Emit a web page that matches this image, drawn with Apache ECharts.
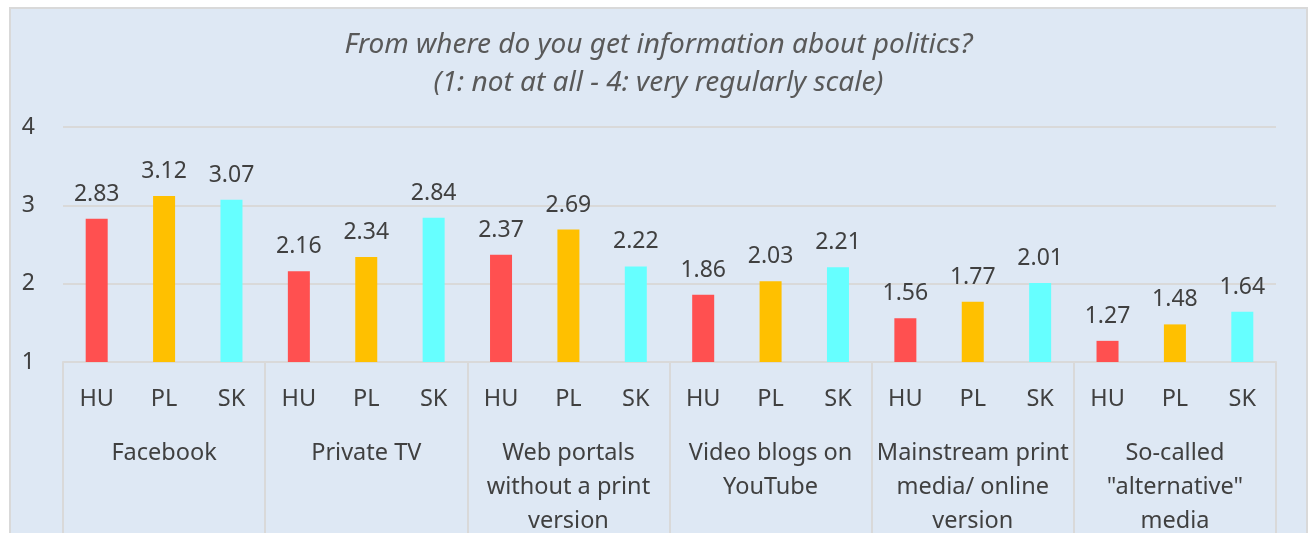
<!DOCTYPE html>
<html>
<head>
<meta charset="utf-8">
<script src="https://cdn.jsdelivr.net/npm/echarts@6/dist/echarts.min.js"></script>
<style>
  html, body { margin: 0; padding: 0; background: #fff; overflow: hidden; width: 1308px; height: 533px; }
  #wrap {
    position: absolute; left: 9px; top: 7px;
    width: 1295px; height: 600px;
    border: 2px solid #d9d9d9; border-bottom: none;
    background: #dee8f4;
  }
  #main { width: 1295px; height: 600px; }
</style>
</head>
<body>
<div id="wrap"><div id="main"></div></div>
<script>
// media sources (group labels)
var groups = ['Facebook', 'Private TV', 'Web portals\nwithout a print\nversion', 'Video blogs on\nYouTube',
  'Mainstream print\nmedia/ online\nversion', 'So-called\n"alternative"\nmedia'];
var countries = ['HU', 'PL', 'SK'];
// mean scores per country, 1-4 scale
var huValues = [2.83, 2.16, 2.37, 1.86, 1.56, 1.27];
var plValues = [3.12, 2.34, 2.69, 2.03, 1.77, 1.48];
var skValues = [3.07, 2.84, 2.22, 2.21, 2.01, 1.64];
var yTicks = [1, 2, 3, 4];

var colors = ['#ff5050', '#ffc000', '#66ffff'];
var textColor = '#404040';
var font = '"Noto Sans", "Open Sans", sans-serif';

// flatten to 18 bars: HU, PL, SK for each group
var cats = [];
var barData = [];
groups.forEach(function (g, i) {
  [huValues, plValues, skValues].forEach(function (arr, j) {
    cats.push(countries[j]);
    barData.push({ value: arr[i], itemStyle: { color: colors[j] } });
  });
});

var chart = echarts.init(document.getElementById('main'), null, { renderer: 'canvas' });

var option = {
  backgroundColor: 'transparent',
  textStyle: { fontFamily: font },
  title: {
    text: 'From where do you get information about politics?\n(1: not at all - 4: very regularly scale)',
    left: 'center',
    top: 12,
    textStyle: {
      fontFamily: font,
      fontStyle: 'italic',
      fontWeight: 'normal',
      fontSize: 28,
      lineHeight: 38,
      color: '#595959'
    }
  },
  grid: { left: 52, top: 118, width: 1213, height: 235 },
  xAxis: [
    {
      type: 'category',
      data: cats,
      position: 'bottom',
      axisLine: { lineStyle: { color: '#d9d9d9', width: 2 } },
      axisTick: { show: false },
      axisLabel: { interval: 0, margin: 25, fontSize: 23.5, color: textColor, fontFamily: font }
    },
    {
      type: 'category',
      data: groups,
      position: 'bottom',
      axisLine: { show: false },
      axisTick: { show: true, length: 220, lineStyle: { color: '#d9d9d9', width: 2 } },
      axisLabel: { interval: 0, margin: 74, fontSize: 23.5, lineHeight: 34, color: textColor, fontFamily: font }
    }
  ],
  yAxis: {
    type: 'value',
    min: yTicks[0],
    max: yTicks[yTicks.length - 1],
    interval: 1,
    axisLine: { show: false },
    axisTick: { show: false },
    splitLine: { lineStyle: { color: '#d9d9d9', width: 2 } },
    axisLabel: { margin: 28, fontSize: 23, color: textColor, fontFamily: font }
  },
  series: [
    {
      type: 'bar',
      xAxisIndex: 0,
      barWidth: 22,
      data: barData,
      label: {
        show: true,
        position: 'top',
        distance: 13,
        fontSize: 23,
        color: textColor,
        fontFamily: font,
        formatter: function (p) { return p.value.toFixed(2); }
      }
    }
  ]
};

chart.setOption(option);
</script>
</body>
</html>
